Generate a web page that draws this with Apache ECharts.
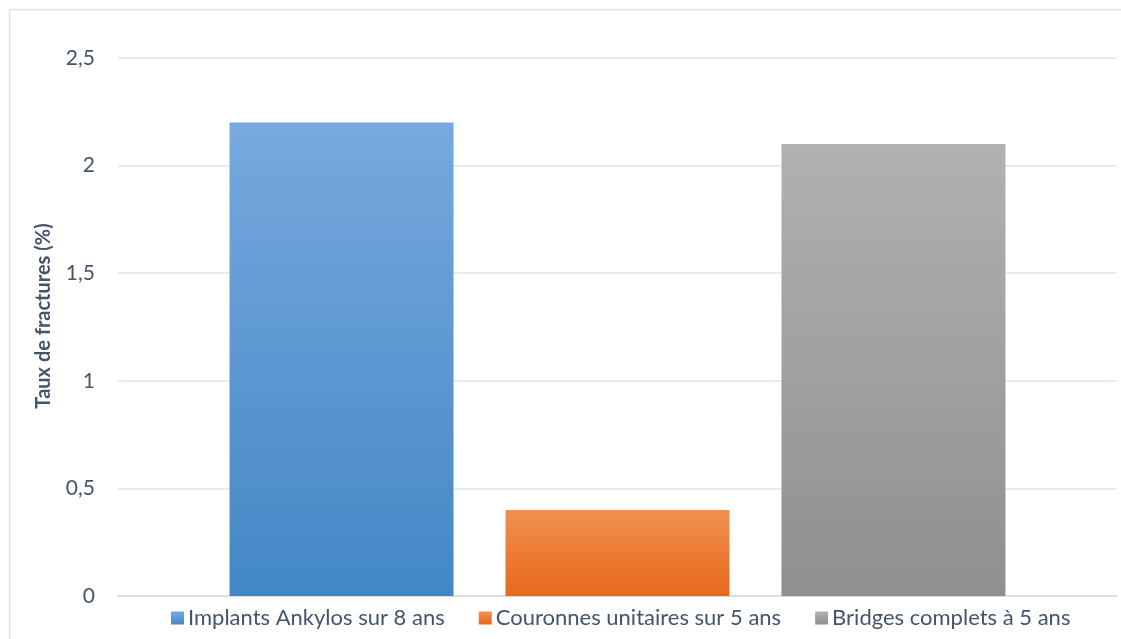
<!DOCTYPE html>
<html><head><meta charset="utf-8">
<script src="https://cdn.jsdelivr.net/npm/echarts@6/dist/echarts.min.js"></script>
<style>html,body{margin:0;padding:0;background:#fff}#c{width:1121px;height:639px}</style>
</head><body><div id="c"></div>
<script>
const seriesNames = ['Implants Ankylos sur 8 ans', 'Couronnes unitaires sur 5 ans', 'Bridges complets à 5 ans'];
const seriesValues = [2.2, 0.4, 2.1];
const gradTop = ['#77a9dd', '#f19052', '#b1b1b1'];
const gradBottom = ['#4387c6', '#e6691a', '#8f8f8f'];
const yTicks = { min: 0, max: 2.5, interval: 0.5 };
const yName = 'Taux de fractures (%)';

const font = 'Lato, Open Sans, sans-serif';
const chart = echarts.init(document.getElementById('c'), null, { renderer: 'canvas' });
const grad = i => new echarts.graphic.LinearGradient(0, 0, 0, 1, [
  { offset: 0, color: gradTop[i] }, { offset: 1, color: gradBottom[i] }]);
chart.setOption({
  animation: false,
  backgroundColor: '#fff',
  textStyle: { fontFamily: font },
  graphic: [{ type: 'rect', shape: { x: 9.5, y: 9.5, width: 1130, height: 650 },
    style: { fill: 'none', stroke: '#dfe2e8', lineWidth: 1.5 }, silent: true, z: -1 }],
  grid: { left: 118, right: 4, top: 58, bottom: 43, containLabel: false },
  legend: {
    bottom: 5, left: 166, itemWidth: 13, itemHeight: 13, itemGap: 34,
    icon: 'rect',
    textStyle: { fontSize: 22, color: '#44546a', fontFamily: font, padding: [0, 0, 0, -1] },
    data: seriesNames
  },
  xAxis: {
    type: 'category', data: [''],
    axisLine: { lineStyle: { color: '#d9d9d9', width: 1.5 } },
    axisTick: { show: false }, axisLabel: { show: false }
  },
  yAxis: {
    type: 'value', min: yTicks.min, max: yTicks.max, interval: yTicks.interval,
    name: yName, nameLocation: 'middle', nameGap: 64,
    nameTextStyle: { fontSize: 20, fontWeight: 'bold', color: '#44546a', fontFamily: font, padding: [0, 0, 0, 22] },
    axisLine: { show: false }, axisTick: { show: false },
    axisLabel: { fontSize: 21, color: '#44546a', margin: 23,
      formatter: v => String(v).replace('.', ',') },
    splitLine: { lineStyle: { color: '#e1e4ea', width: 1.5 } }
  },
  series: seriesNames.map((n, i) => ({
    name: n, type: 'bar', data: [seriesValues[i]],
    barWidth: 224, barGap: '23.2%',
    itemStyle: { color: grad(i) }
  }))
});
</script></body></html>
